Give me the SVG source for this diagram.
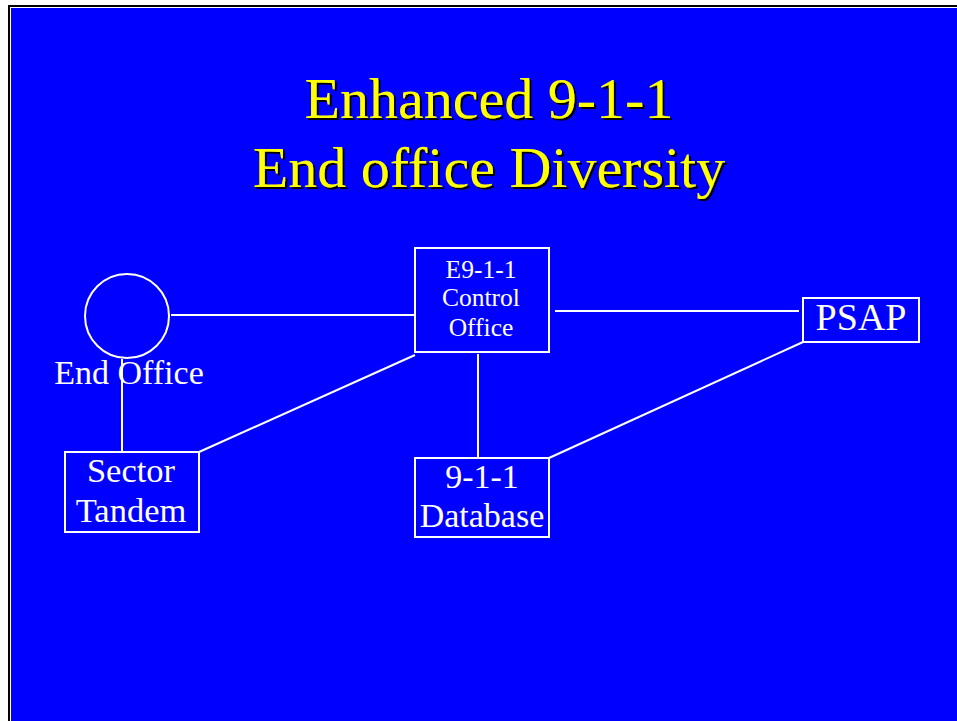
<svg xmlns="http://www.w3.org/2000/svg" width="957" height="721" viewBox="0 0 957 721">
<defs>
<filter id="shadow" x="-5%" y="-20%" width="110%" height="140%">
<feOffset in="SourceAlpha" dx="2" dy="2" result="off"/>
<feFlood flood-color="#000000"/>
<feComposite in2="off" operator="in" result="sh"/>
<feMerge><feMergeNode in="sh"/><feMergeNode in="SourceGraphic"/></feMerge>
</filter>
</defs>
<style>
.node{fill:none;stroke:#ffffff;stroke-width:2}
.lbl{font-family:"Liberation Serif","Times New Roman",serif;fill:#ffffff;text-anchor:middle}
.title{font-family:"Liberation Serif","Times New Roman",serif;font-size:58px;text-anchor:middle;fill:#ffff00;filter:url(#shadow)}
#connectors line{stroke:#ffffff;stroke-width:2}
</style>
<rect x="0" y="0" width="957" height="721" fill="#ffffff"/>
<rect x="9" y="6" width="960" height="730" fill="none" stroke="#000000" stroke-width="2"/>
<rect x="11" y="8" width="946" height="713" fill="#0000ff"/>
<g id="title">
<text class="title" x="489" y="118">Enhanced 9-1-1</text>
<text class="title" x="489" y="187">End office Diversity</text>
</g>
<g id="connectors">
<line x1="171" y1="315" x2="415" y2="315"/>
<line x1="122" y1="359" x2="122" y2="452"/>
<line x1="199" y1="452" x2="415" y2="355"/>
<line x1="555" y1="311" x2="799" y2="311"/>
<line x1="478" y1="354" x2="478" y2="458"/>
<line x1="803" y1="342" x2="549" y2="458"/>
</g>
<g id="end-office">
<circle class="node" cx="127" cy="316" r="42"/>
<text class="lbl" x="129" y="384" font-size="34">End Office</text>
</g>
<g id="sector-tandem">
<rect class="node" x="65" y="452" width="134" height="80"/>
<text class="lbl" x="131" y="482" font-size="34.5">Sector</text>
<text class="lbl" x="131" y="522" font-size="34.5">Tandem</text>
</g>
<g id="control-office">
<rect class="node" x="415" y="248" width="134" height="104"/>
<text class="lbl" x="481" y="278" font-size="25.5">E9-1-1</text>
<text class="lbl" x="481" y="306" font-size="25.5">Control</text>
<text class="lbl" x="481" y="336" font-size="25.5">Office</text>
</g>
<g id="database">
<rect class="node" x="415" y="458" width="134" height="79"/>
<text class="lbl" x="482" y="488" font-size="34">9-1-1</text>
<text class="lbl" x="482" y="527" font-size="34">Database</text>
</g>
<g id="psap">
<rect class="node" x="803" y="298" width="116" height="44"/>
<text class="lbl" x="861" y="330" font-size="38">PSAP</text>
</g>
</svg>
